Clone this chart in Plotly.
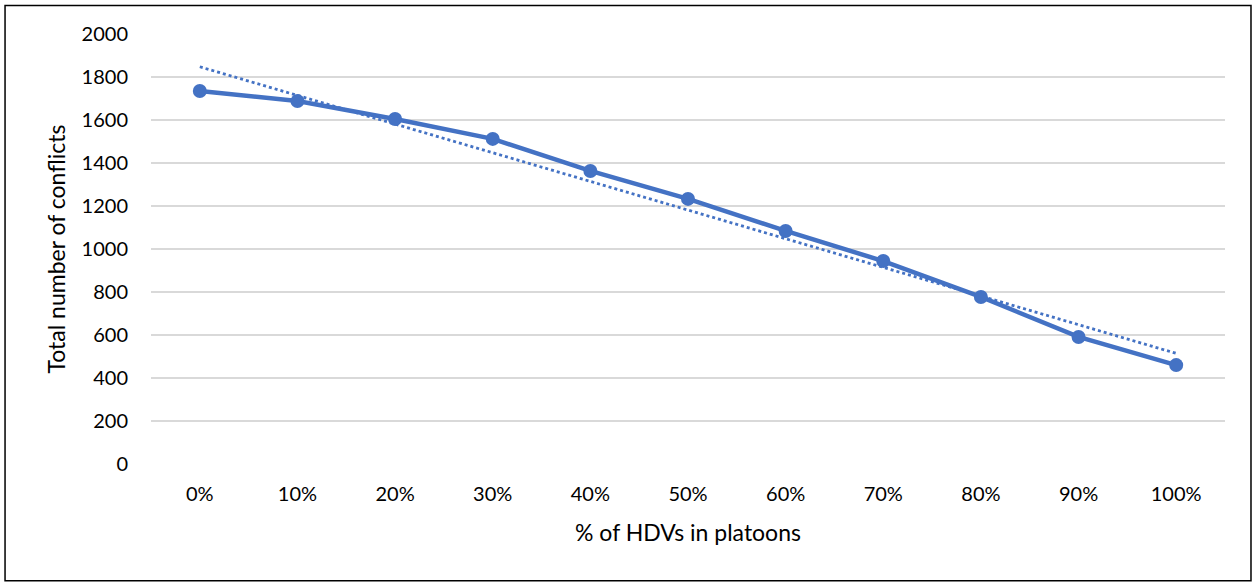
import numpy as np
import plotly.graph_objects as go

# Share of heavy-duty vehicles driving in platoons
categories = ["0%", "10%", "20%", "30%", "40%", "50%", "60%", "70%", "80%", "90%", "100%"]
# Total number of conflicts for each scenario
conflicts = [1735, 1688, 1605, 1512, 1363, 1233, 1084, 944, 777, 591, 460]
y_ticks = [0, 200, 400, 600, 800, 1000, 1200, 1400, 1600, 1800, 2000]

BLUE = "#4472C4"
FONT = "Lato, Carlito, Calibri, sans-serif"

# Linear trend line (least squares over category index)
idx = np.arange(len(categories))
slope, intercept = np.polyfit(idx, conflicts, 1)
trend = slope * idx + intercept

fig = go.Figure()
fig.add_trace(go.Scatter(
    x=categories, y=trend, mode="lines",
    line=dict(color=BLUE, width=2.8, dash="dot"),
    hoverinfo="skip", showlegend=False,
))
fig.add_trace(go.Scatter(
    x=categories, y=conflicts, mode="lines+markers",
    line=dict(color=BLUE, width=4.5),
    marker=dict(color=BLUE, size=14),
    showlegend=False,
))

fig.update_layout(
    width=1254, height=583,
    margin=dict(l=151, r=29, t=34, b=119),
    paper_bgcolor="white", plot_bgcolor="white",
    font=dict(family=FONT, size=20, color="#000000"),
    xaxis=dict(
        type="category", range=[-0.5, len(categories) - 0.5],
        showgrid=False, zeroline=False,
        showline=False, ticks="", ticklabelstandoff=16,
        title=dict(text="% of HDVs in platoons", font=dict(size=23), standoff=20),
    ),
    yaxis=dict(
        range=[0, 2000], tickvals=y_ticks, showgrid=True,
        gridcolor="#D9D9D9", gridwidth=1.5, zeroline=False,
        showline=False, ticks="", ticklabelstandoff=22,
        title=dict(text="Total number of conflicts", font=dict(size=23), standoff=9),
    ),
    shapes=[dict(
        type="rect", xref="paper", yref="paper",
        x0=-0.1359, x1=1.0242, y0=-0.2715, y1=1.0663,
        line=dict(color="#000000", width=1.5), layer="below",
    )],
)

fig.write_html("out.html")
